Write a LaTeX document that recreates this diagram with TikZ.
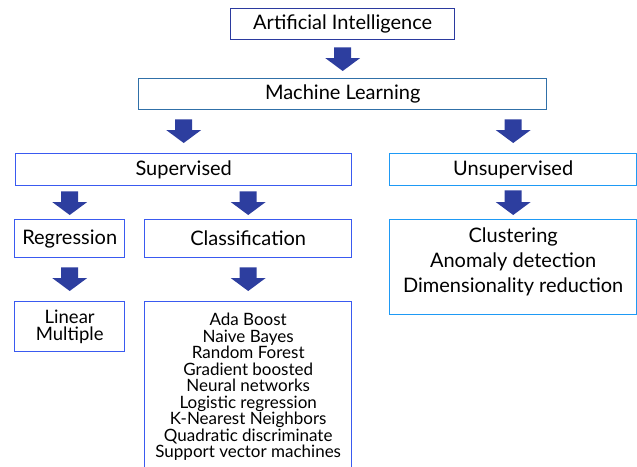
\documentclass[tikz,border=0pt]{standalone}
\usepackage{fontspec}
\setmainfont{Lato}
\usetikzlibrary{calc}
\definecolor{aiblue}{HTML}{2B3A9F}
\definecolor{mlblue}{HTML}{3070A8}
\definecolor{supblue}{HTML}{3A5AF0}
\definecolor{unsblue}{HTML}{1E9AF5}
\definecolor{arrowblue}{HTML}{2D3E9F}
\tikzset{
  box/.style={draw, line width=1.4pt, anchor=north west, inner sep=0pt, align=center, fill=white},
  big/.style={font=\fontsize{20}{22}\selectfont},
  fat/.style={fill=arrowblue, draw=none,
    to path={let \p1=(\tikztostart), \p2=(\tikztotarget) in
      (\x1-8.5pt,\y1) -- (\x1+8.5pt,\y1) -- (\x1+8.5pt,\y2+13pt) -- (\x1+17.5pt,\y2+13pt)
      -- (\x1,\y2) -- (\x1-17.5pt,\y2+13pt) -- (\x1-8.5pt,\y2+13pt) -- cycle}},
}
\begin{document}
\begin{tikzpicture}[x=1pt,y=-1pt]
\useasboundingbox (0,0) rectangle (637,466);
\begin{scope}
\clip (0,0) rectangle (637,466);
\node[box, big, draw=aiblue, minimum width=224pt, minimum height=31pt] (ai) at (230,8) {Artificial Intelligence};
\node[box, big, draw=mlblue, minimum width=408pt, minimum height=31pt] (ml) at (138,78) {Machine Learning};
\node[box, big, draw=supblue, minimum width=336pt, minimum height=32pt] (sup) at (15,153) {Supervised};
\node[box, big, draw=unsblue, minimum width=247pt, minimum height=32pt] (uns) at (389,153) {Unsupervised};
\node[box, big, draw=supblue, minimum width=110pt, minimum height=38pt] (reg) at (14,219) {Regression};
\node[box, big, draw=supblue, minimum width=207pt, minimum height=38pt] (cls) at (144,219) {Classification};
\node[box, draw=supblue, minimum width=110pt, minimum height=50pt, font=\fontsize{18.5}{17.5}\selectfont] (lin) at (14,301) {Linear\\Multiple};
\node[box, draw=supblue, minimum width=207pt, minimum height=170pt, font=\fontsize{17}{16.5}\selectfont] (alg) at (144,301) {Ada Boost\\Naive Bayes\\Random Forest\\Gradient boosted\\Neural networks\\Logistic regression\\K-Nearest Neighbors\\Quadratic discriminate\\Support vector machines};
\node[box, draw=unsblue, minimum width=247pt, minimum height=95pt] (clu) at (389,219) {};
\node[align=center, inner sep=0pt, font=\fontsize{20}{25}\selectfont] (clut) at ($(clu.center)+(0,5pt)$) {Clustering\\Anomaly detection\\Dimensionality reduction};
\end{scope}
\draw[fat] ($(ai.south)+(0,-7pt)$) to ($(ml.north)+(0,7pt)$);
\draw[fat] ($(ml.south -| sup.north)+(0,-9pt)$) to ($(sup.north)+(0,10pt)$);
\draw[fat] ($(ml.south -| uns.north)+(0,-9pt)$) to ($(uns.north)+(0,10pt)$);
\draw[fat] ($(sup.south -| reg.north)+(0,-5pt)$) to ($(reg.north)+(0,4pt)$);
\draw[fat] ($(sup.south -| cls.north)+(0,-5pt)$) to ($(cls.north)+(0,4pt)$);
\draw[fat] ($(uns.south)+(0,-4pt)$) to ($(clu.north)+(0,4pt)$);
\draw[fat] ($(reg.south)+(0,-9pt)$) to ($(lin.north)+(0,10pt)$);
\draw[fat] ($(cls.south)+(0,-9pt)$) to ($(alg.north)+(0,10pt)$);
\end{tikzpicture}
\end{document}
